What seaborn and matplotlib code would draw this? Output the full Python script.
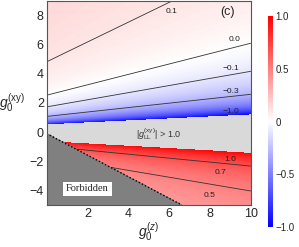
import numpy as np
import matplotlib
matplotlib.use('Agg')
import matplotlib.pyplot as plt
import seaborn as sns

# livelli delle curve di contorno
levels = [-1.0, -0.3, -0.1, 0.0, 0.1, 0.5, 0.7, 1.0]
level_names = ['\u22121.0', '\u22120.3', '\u22120.1', '0.0', '0.1', '0.5', '0.7', '1.0']

# tutte le curve passano per (pivot, 0): g = A - B / (r - c), r = g_xy / (g_z - pivot)
pivot = -7.1
A = 0.2075
B = 0.072
c = 0.01

# zona proibita: g_xy < forb_q + forb_m * g_z
forb_q = -0.1
forb_m = -0.74

# posizioni delle etichette delle curve
label_pos = {'\u22121.0': (9.0, 1.45), '\u22120.3': (9.0, 2.8), '\u22120.1': (9.0, 4.4),
             '0.0': (9.2, 6.35), '0.1': (6.1, 8.3), '0.5': (8.0, -4.35),
             '0.7': (8.5, -2.75), '1.0': (9.0, -1.85)}

sns.set_theme(style='white')
plt.rcParams['font.family'] = ['Liberation Sans', 'DejaVu Sans']
plt.rcParams['mathtext.fontset'] = 'custom'
plt.rcParams['mathtext.rm'] = 'Liberation Sans'
plt.rcParams['mathtext.it'] = 'Liberation Sans:italic'
plt.rcParams['contour.negative_linestyle'] = 'solid'

x = np.linspace(0, 10, 600)
y = np.linspace(-5, 9, 800)
X, Y = np.meshgrid(x, y)
R = Y / (X - pivot)
G = A - B / (R - c)

forbidden = Y < forb_q + forb_m * X
big = (np.abs(G) > 1.0) & ~forbidden
G_col = np.ma.masked_where(big | forbidden, G)

fig = plt.figure(figsize=(2.99, 2.47), dpi=100)
ax = fig.add_axes([0.156, 0.17, 0.683, 0.826])

mesh = ax.pcolormesh(X, Y, G_col, cmap='bwr', vmin=-1, vmax=1, shading='auto', rasterized=True)
ax.contourf(X, Y, big.astype(float), levels=[0.5, 1.5], colors=['#d9d9d9'])
ax.contourf(X, Y, forbidden.astype(float), levels=[0.5, 1.5], colors=['#808080'])

G_lines = np.ma.masked_where(forbidden | (np.abs(G) > 1.0), G)
ax.contour(X, Y, G_lines, levels=[-0.3, -0.1, 0.0, 0.1, 0.5, 0.7],
           colors='#333333', linewidths=0.6, linestyles='solid')

# bordo della zona proibita
xb = np.array([0, (-5 - forb_q) / forb_m])
sns.lineplot(x=xb, y=forb_q + forb_m * xb, ax=ax, color='black', linestyle=(0, (1, 1.5)),
             linewidth=1.0)

for name in level_names:
    px, py = label_pos[name]
    ax.text(px, py, name, fontsize=6, ha='center', va='center', color='#222222')

ax.text(8.85, 8.25, '(c)', fontsize=9, ha='center', va='center')
ax.text(4.4, -0.15, r'$|g_{\rm LL}^{\rm (xy)}|$ > 1.0', fontsize=6.5, ha='left', va='center',
        color='#333333')
ax.text(2.0, -3.9, 'Forbidden', fontsize=7.5, ha='center', va='center',
        family=['Liberation Serif', 'DejaVu Serif'],
        bbox=dict(facecolor='white', edgecolor='none', pad=2))

ax.set_xlim(0, 10)
ax.set_ylim(-5, 9)
ax.set_xticks([2, 4, 6, 8, 10])
ax.set_yticks([-4, -2, 0, 2, 4, 6, 8])
ax.set_yticklabels(['\u22124', '\u22122', '0', '2', '4', '6', '8'])
ax.tick_params(labelsize=9, direction='in', length=2, pad=2)
ax.set_xlabel(r'$g_0^{(z)}$', fontsize=10, labelpad=1)
ax.set_ylabel(r'$g_0^{\rm (xy)}$', fontsize=10, rotation=0, ha='right', va='center', labelpad=3)
for s in ax.spines.values():
    s.set_color('#555555')
    s.set_linewidth(0.8)

cax = fig.add_axes([0.896, 0.081, 0.017, 0.854])
cb = fig.colorbar(mesh, cax=cax, ticks=[-1, -0.5, 0, 0.5, 1])
cb.ax.set_yticklabels(['\u22121.0', '\u22120.5', '0', '0.5', '1.0'])
cb.ax.tick_params(labelsize=7, length=0, pad=2)
cb.outline.set_visible(False)

fig.savefig('out.png', dpi=100)
